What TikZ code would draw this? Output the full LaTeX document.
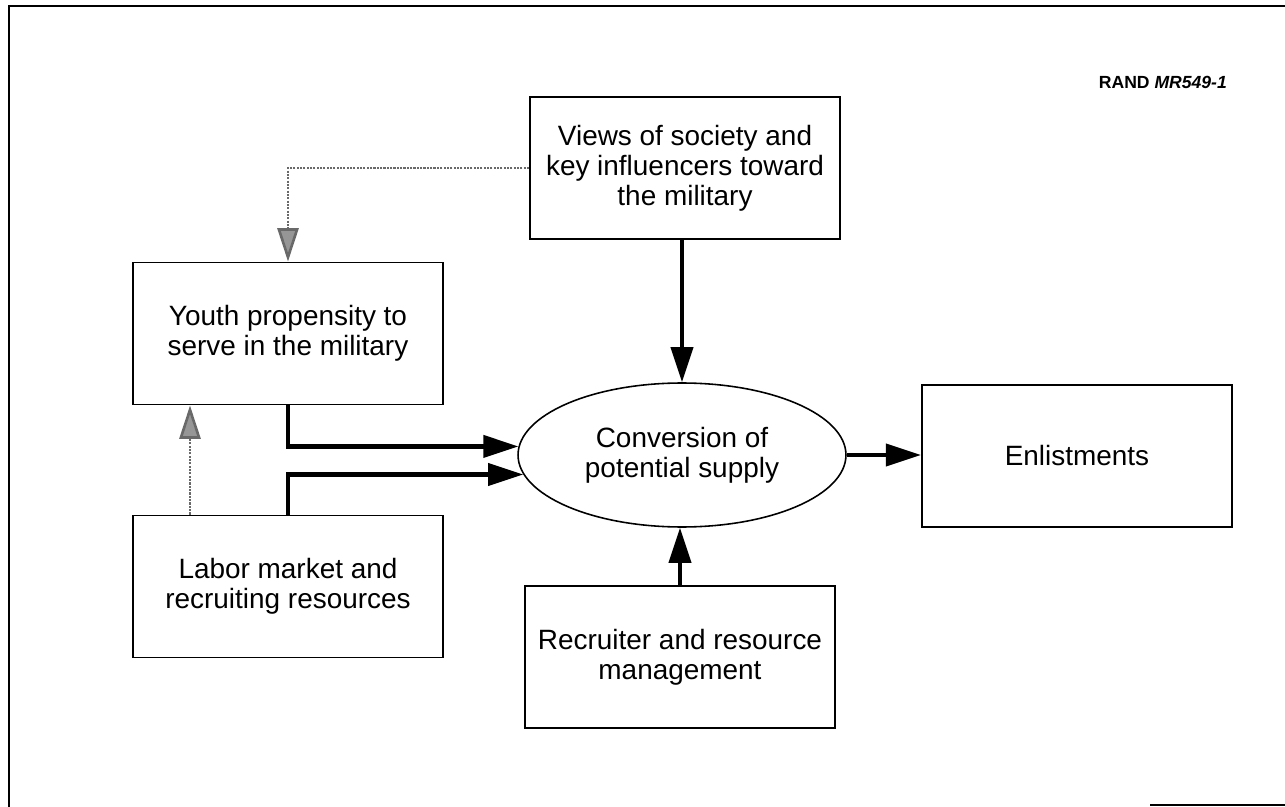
\documentclass[tikz,border=0pt]{standalone}
\usepackage{fontspec}
\setmainfont{Liberation Sans}
\usetikzlibrary{arrows.meta,shapes.geometric}
\definecolor{figgray}{RGB}{105,105,105}
\newcommand{\bW}{6.2cm}
\newcommand{\bH}{2.84cm}
\tikzset{
  fgbox/.style  ={draw=black,line width=1.1pt,rectangle,minimum width=\bW,minimum height=\bH,
                  inner sep=0pt,align=center,font=\fontsize{15.9}{17}\selectfont},
  fgell/.style  ={draw=black,line width=0.9pt,ellipse,minimum width=6.56cm,minimum height=2.88cm,
                  inner sep=0pt,align=center,font=\fontsize{15.9}{17}\selectfont},
  kedge/.style  ={line width=2.4pt,-{Triangle[length=20pt,width=12.5pt]}},
  gedge/.style  ={figgray,line width=1.5pt,dash pattern=on 1.2pt off 0.7pt,
                  -{Triangle[length=19pt,width=12pt,fill=figgray!70,color=figgray]}},
  frame/.style  ={line width=1.1pt},
}
\begin{document}
\begin{tikzpicture}[x=0.02cm,y=-0.02cm]
  \useasboundingbox (0,0) rectangle (1285,807);
  \draw[frame] (1285,6) -- (9,6) -- (9,807);
  \draw[frame,line width=0.6pt] (1150,805) -- (1285,805);
  \node[anchor=east,font=\fontsize{10}{12}\selectfont] (rand) at (1233,82) {\textbf{RAND \textit{MR549-1}}};
  % boxes
  \node[fgbox] (views)  at (685,168)   {Views of society and\\key influencers toward\\the military};
  \node[fgbox] (youth)  at (288,333.5) {Youth propensity to\\serve in the military};
  \node[fgbox] (labor)  at (288,586.5) {Labor market and\\recruiting resources};
  \node[fgell] (conv)   at (682,455)   {Conversion of\\potential supply};
  \node[fgbox] (recr)   at (680,657)   {Recruiter and resource\\management};
  \node[fgbox] (enlist) at (1077,456)  {Enlistments};
  % links
  \draw[kedge] (conv.north |- views.south) -- (conv.north);
  \draw[kedge] (youth.south) |- (conv.177);
  \draw[kedge] (labor.north) |- (conv.187);
  \draw[kedge] (recr.north) -- (recr.north |- conv.south);
  \draw[kedge] (conv.east) -- (conv.east -| enlist.west);
  \draw[gedge] (views.west) -| (youth.north);
  \draw[gedge] (labor.north -| 190,0) -- (youth.south -| 190,0);
\end{tikzpicture}
\end{document}
